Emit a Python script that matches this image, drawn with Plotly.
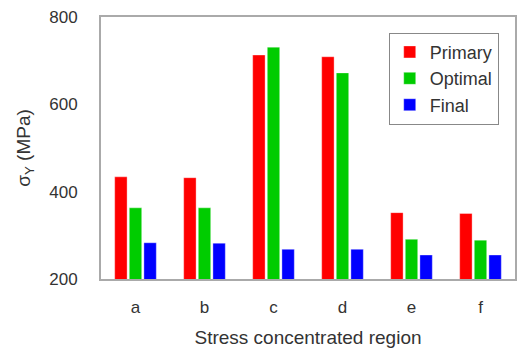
import plotly.graph_objects as go

categories = ["a", "b", "c", "d", "e", "f"]
primary = [434, 432, 713, 709, 352, 350]
optimal = [363, 363, 731, 672, 291, 289]
final = [283, 282, 268, 268, 255, 255]

series = [("Primary", primary, "#ff0000"),
          ("Optimal", optimal, "#00cc00"),
          ("Final", final, "#0000ff")]

fig = go.Figure()
for name, vals, col in series:
    fig.add_trace(go.Bar(x=categories, y=vals, name=name,
                         marker=dict(color=col, line=dict(width=0.6, color="rgba(255,255,255,0.6)"))))

fam = "Liberation Sans, Arial, sans-serif"
tickfont = dict(family=fam, size=17, color="#333333")
fig.update_layout(
    width=519, height=352,
    margin=dict(l=101, r=2, t=17, b=73),
    paper_bgcolor="white", plot_bgcolor="white",
    barmode="group", bargap=0.365, bargroupgap=0.15,
    font=dict(family=fam, size=16, color="#333333"),
    showlegend=True,
    legend=dict(x=0.695, y=0.94, xanchor="left", yanchor="top",
                bordercolor="#888888", borderwidth=1, bgcolor="white",
                font=dict(family=fam, size=18, color="#333333"),
                itemwidth=30, tracegroupgap=0),
    xaxis=dict(showline=True, linecolor="#aaaaaa", linewidth=2, mirror=True,
               ticks="", showgrid=False, ticklabelstandoff=12, tickfont=tickfont,
               title=dict(text="Stress concentrated region", standoff=14)),
    yaxis=dict(range=[200, 800], tickvals=[200, 400, 600, 800],
               showline=True, linecolor="#aaaaaa", linewidth=2, mirror=True,
               ticks="", showgrid=False, zeroline=False, ticklabelstandoff=18,
               tickfont=tickfont,
               title=dict(text="σ<sub>Y</sub> (MPa)", standoff=14)),
)
fig.write_html("out.html")
